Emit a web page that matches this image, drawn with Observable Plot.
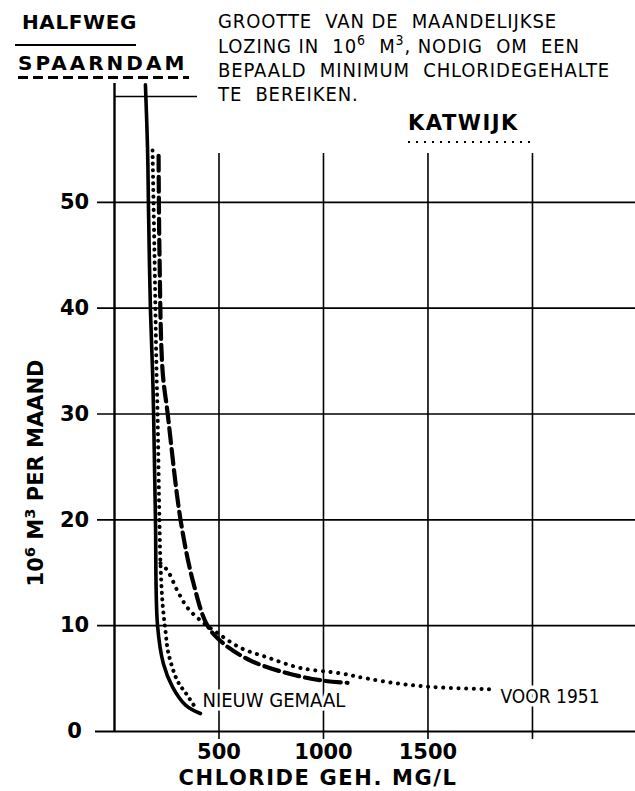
<!DOCTYPE html>
<html><head><meta charset="utf-8">
<script src="https://cdn.jsdelivr.net/npm/d3@7"></script>
<script src="https://cdn.jsdelivr.net/npm/@observablehq/plot@0.6"></script>
<style>
body{margin:0;background:#fff;}
#wrap{position:relative;width:635px;height:791px;overflow:hidden;background:#fff;}
#wrap svg{position:absolute;left:0;top:0;}
.t{position:absolute;white-space:pre;color:#000;line-height:1;}
.bold{font-family:"DejaVu Sans";font-weight:bold;}
.narrow{font-family:"DejaVu Sans Condensed","DejaVu Sans";font-stretch:condensed;font-weight:normal;font-size:20px;letter-spacing:0.9px;}
.ln{position:absolute;}
sup{font-size:0.7em;vertical-align:0.55em;line-height:0;}
</style></head>
<body><div id="wrap">
<div class="t bold" style="left:22px;top:12px;font-size:20px;letter-spacing:0.6px;">HALFWEG</div>
<div class="ln" style="left:15px;top:44px;width:121px;height:2px;background:#000;"></div>
<div class="t bold" style="left:18px;top:53px;font-size:20px;letter-spacing:3px;">SPAARNDAM</div>
<div class="ln" style="left:18px;top:76px;width:171px;height:2.5px;background:repeating-linear-gradient(90deg,#000 0 10px,transparent 10px 15px);"></div>
<div class="t narrow" style="left:218px;top:11px;">GROOTTE  VAN DE  MAANDELIJKSE</div>
<div class="t narrow" style="left:218px;top:36px;">LOZING IN  10<sup>6</sup>  M<sup>3</sup>, NODIG  OM  EEN</div>
<div class="t narrow" style="left:218px;top:60px;">BEPAALD  MINIMUM  CHLORIDEGEHALTE</div>
<div class="t narrow" style="left:218px;top:84px;">TE  BEREIKEN.</div>
<div class="t bold" style="left:408px;top:113px;font-size:21px;letter-spacing:1.5px;">KATWIJK</div>
<div class="ln" style="left:408px;top:141px;width:128px;height:2px;background:repeating-linear-gradient(90deg,#000 0 2px,transparent 2px 8px);"></div>
<div class="t bold" style="left:-94px;top:461px;width:260px;text-align:center;font-size:21px;transform:rotate(-90deg);transform-origin:130px 12px;line-height:24px;">10<sup>6</sup> M<sup>3</sup> PER MAAND</div>
<div class="t bold" style="left:118px;top:768px;width:400px;text-align:center;font-size:21px;letter-spacing:1.6px;">CHLORIDE GEH. MG/L</div>
</div>
<script>
// Halfweg (solid) – chloride mg/l vs lozing 10^6 m3 per maand
const halfwegChloride = [148, 158, 163, 172, 182, 187, 196, 206, 234, 278, 340, 411];
const halfwegLozing   = [61.1, 55.2, 49.0, 39.8, 34.1, 30.1, 20.0, 10.0, 6.4, 4.2, 2.5, 1.7];
// Spaarndam (dashed)
const spaarndamChloride = [211, 215, 230, 254, 316, 378, 445, 522, 651, 828, 1000, 1115];
const spaarndamLozing   = [54.4, 45.5, 34.1, 30.1, 20.0, 14.0, 10.0, 8.3, 6.7, 5.5, 4.8, 4.6];
// Katwijk nieuw gemaal (dotted)
const katwijkNieuwChloride = [182, 191, 201, 206, 215, 220, 230, 244, 258, 301, 349, 392];
const katwijkNieuwLozing   = [54.9, 45.5, 34.1, 30.1, 20.0, 15.9, 12.1, 9.5, 7.4, 4.8, 3.4, 2.1];
// Katwijk voor 1951 (dotted)
const katwijkVoorChloride = [220, 254, 301, 349, 411, 493, 603, 732, 890, 1081, 1211, 1368, 1526, 1799];
const katwijkVoorLozing   = [15.9, 15.2, 13.3, 11.7, 10.5, 9.3, 7.9, 7.0, 6.0, 5.5, 5.0, 4.5, 4.2, 4.0];

const xTicks = [500, 1000, 1500];
const yTicks = [0, 10, 20, 30, 40, 50];
const gridX = [500, 1000, 1500, 2000];
const gridY = [10, 20, 30, 40, 50];
const topRule = [{lozing: 60, from: 0, to: 397}];
const curveLabels = ["NIEUW GEMAAL", "VOOR 1951"];

const toRows = (xs, ys) => xs.map((x, i) => ({chloride: x, lozing: ys[i]}));
const halfweg = toRows(halfwegChloride, halfwegLozing);
const spaarndam = toRows(spaarndamChloride, spaarndamLozing);
const katNieuw = toRows(katwijkNieuwChloride, katwijkNieuwLozing);
const katVoor = toRows(katwijkVoorChloride, katwijkVoorLozing);
const labelNieuw = [{...katNieuw[katNieuw.length - 1], text: curveLabels[0]}];
const labelVoor = [{...katVoor[katVoor.length - 1], text: curveLabels[1]}];

const lineFont = "DejaVu Sans Condensed";
const chart = Plot.plot({
  width: 635, height: 791,
  marginLeft: 114, marginRight: 0, marginTop: 96, marginBottom: 60,
  x: {domain: [0, 2493], axis: null},
  y: {domain: [0, 60], axis: null},
  style: {background: "transparent", overflow: "visible"},
  marks: [
    Plot.ruleY(gridY, {stroke: "#000", strokeWidth: 1.6, insetLeft: -17}),
    Plot.ruleY([0], {stroke: "#000", strokeWidth: 2.2, insetLeft: -19}),
    Plot.ruleX(gridX, {stroke: "#000", strokeWidth: 1.6, insetTop: 57, insetBottom: -8}),
    Plot.ruleX([0], {stroke: "#000", strokeWidth: 2.4, insetTop: -13}),
    Plot.ruleY(topRule, {y: "lozing", x1: "from", x2: "to", stroke: "#000", strokeWidth: 1.6}),
    Plot.line(halfweg, {x: "chloride", y: "lozing", curve: "catmull-rom", stroke: "#000", strokeWidth: 3.6}),
    Plot.line(spaarndam, {x: "chloride", y: "lozing", curve: "catmull-rom", stroke: "#000", strokeWidth: 4.2, strokeDasharray: "15,6"}),
    Plot.line(katNieuw, {x: "chloride", y: "lozing", curve: "catmull-rom", stroke: "#000", strokeWidth: 4, strokeDasharray: "0.1,6.5", strokeLinecap: "round"}),
    Plot.line(katVoor, {x: "chloride", y: "lozing", curve: "catmull-rom", stroke: "#000", strokeWidth: 4, strokeDasharray: "0.1,7.5", strokeLinecap: "round"}),
    Plot.text(labelNieuw, {x: "chloride", y: "lozing", text: "text", dx: 6, dy: -9, textAnchor: "start", fontFamily: lineFont, fontStretch: "condensed", fontSize: 20, letterSpacing: "0.8px", fill: "#000", stroke: "#fff", strokeWidth: 7, paintOrder: "stroke"}),
    Plot.text(labelVoor, {x: "chloride", y: "lozing", text: "text", dx: 10, dy: 8, textAnchor: "start", fontFamily: lineFont, fontStretch: "condensed", fontSize: 19, fill: "#000", stroke: "#fff", strokeWidth: 7, paintOrder: "stroke"}),
    Plot.text(xTicks, {x: d => d, frameAnchor: "bottom", dy: 21, text: d => String(d), fontFamily: "DejaVu Sans", fontWeight: "bold", fontSize: 21, fill: "#000", lineAnchor: "middle"}),
    Plot.text(yTicks, {y: d => d, frameAnchor: "left", dx: -40, text: d => String(d), fontFamily: "DejaVu Sans", fontWeight: "bold", fontSize: 21, fill: "#000", textAnchor: "middle"})
  ]
});
document.getElementById("wrap").prepend(chart);
</script>
</body></html>
